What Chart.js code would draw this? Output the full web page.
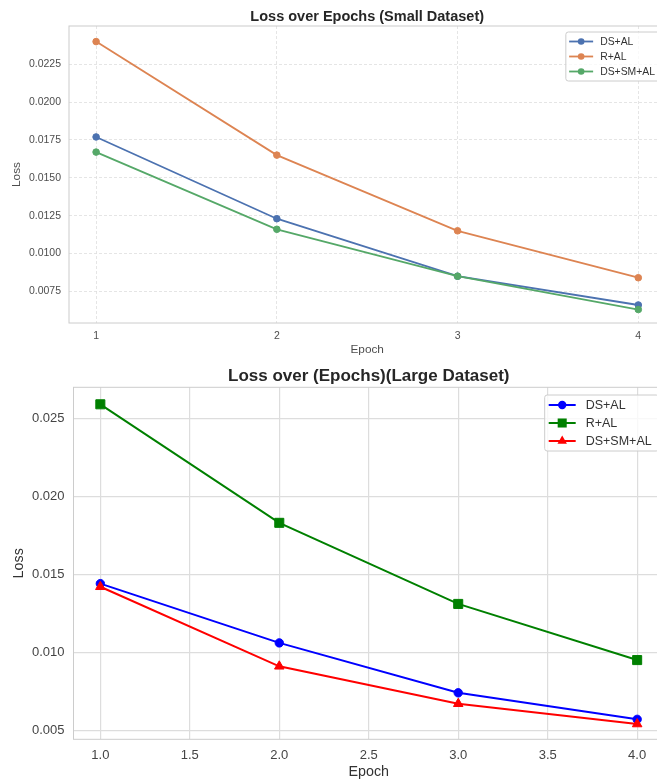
<!DOCTYPE html>
<html>
<head>
<meta charset="utf-8">
<title>Loss over Epochs</title>
<script src="https://cdn.jsdelivr.net/npm/chart.js@4.4.1/dist/chart.umd.min.js"></script>
<style>
  html, body { margin: 0; padding: 0; background: #fff; overflow: hidden; width: 657px; height: 783px; }
  #wrap { position: relative; width: 657px; height: 783px; overflow: hidden; }
  canvas { position: absolute; left: 0; }
  #small { top: 0; }
  #large { top: 360px; }
</style>
</head>
<body>
<div id="wrap">
  <canvas id="small" width="680" height="360"></canvas>
  <canvas id="large" width="680" height="423"></canvas>
</div>
<script>
// ---- data ----
const epochs = [1, 2, 3, 4];
const seriesNames = ['DS+AL', 'R+AL', 'DS+SM+AL'];

// small dataset losses
const smallDsAl   = [0.0177, 0.0123, 0.0085, 0.0066];
const smallRAl    = [0.0240, 0.0165, 0.0115, 0.0084];
const smallDsSmAl = [0.0167, 0.0116, 0.0085, 0.0063];

// large dataset losses
const largeDsAl   = [0.0144, 0.0106, 0.0074, 0.0057];
const largeRAl    = [0.0259, 0.0183, 0.0131, 0.0095];
const largeDsSmAl = [0.0142, 0.0091, 0.0067, 0.0054];

// tick positions and labels
const smallXTicks = [1, 2, 3, 4];
const smallXTickLabels = ['1', '2', '3', '4'];
const smallYTicks = [0.0075, 0.0100, 0.0125, 0.0150, 0.0175, 0.0200, 0.0225];
const smallYTickLabels = ['0.0075', '0.0100', '0.0125', '0.0150', '0.0175', '0.0200', '0.0225'];
const largeXTicks = [1.0, 1.5, 2.0, 2.5, 3.0, 3.5, 4.0];
const largeXTickLabels = ['1.0', '1.5', '2.0', '2.5', '3.0', '3.5', '4.0'];
const largeYTicks = [0.005, 0.010, 0.015, 0.020, 0.025];
const largeYTickLabels = ['0.005', '0.010', '0.015', '0.020', '0.025'];

const FONT = '"Liberation Sans", Arial, Helvetica, sans-serif';

function toPoints(values) {
  return values.map((v, i) => ({ x: epochs[i], y: v }));
}

// ---- plugins ----
function drawMarker(ctx, style, x, y, r) {
  ctx.beginPath();
  if (style === 'rect') {
    const s = r * Math.SQRT1_2;
    ctx.rect(x - s, y - s, 2 * s, 2 * s);
  } else if (style === 'triangle') {
    ctx.moveTo(x, y - r);
    ctx.lineTo(x + r * 0.8660254, y + r * 0.5);
    ctx.lineTo(x - r * 0.8660254, y + r * 0.5);
    ctx.closePath();
  } else {
    ctx.arc(x, y, r, 0, Math.PI * 2);
  }
  ctx.fill();
}

// axes frame around the plot area
const frame = {
  id: 'frame',
  afterDatasetsDraw(chart, args, o) {
    const a = chart.chartArea, ctx = chart.ctx;
    ctx.save();
    ctx.strokeStyle = o.color;
    ctx.lineWidth = o.width;
    ctx.strokeRect(a.left, a.top, a.right - a.left, a.bottom - a.top);
    ctx.restore();
  }
};

// boxed legend in the upper right corner of the plot
const boxLegend = {
  id: 'boxLegend',
  afterDraw(chart, args, o) {
    const ctx = chart.ctx, a = chart.chartArea;
    const sets = chart.data.datasets;
    ctx.save();
    ctx.font = o.fontSize + 'px ' + FONT;
    const textW = Math.max(...sets.map(d => ctx.measureText(d.label).width));
    const w = o.padLeft + o.handle + o.gap + textW + o.padRight;
    const h = o.padY * 2 + o.rowH * sets.length;
    const x0 = a.right - o.inset - w;
    const y0 = a.top + o.top;
    ctx.beginPath();
    ctx.roundRect(x0, y0, w, h, 2.5);
    ctx.fillStyle = 'rgba(255,255,255,0.8)';
    ctx.fill();
    ctx.strokeStyle = '#cccccc';
    ctx.lineWidth = 1;
    ctx.stroke();
    sets.forEach((d, i) => {
      const cy = y0 + o.padY + o.rowH * (i + 0.5);
      const lx = x0 + o.padLeft;
      ctx.beginPath();
      ctx.moveTo(lx, cy);
      ctx.lineTo(lx + o.handle, cy);
      ctx.strokeStyle = d.borderColor;
      ctx.lineWidth = d.borderWidth;
      ctx.stroke();
      ctx.fillStyle = d.pointBackgroundColor;
      drawMarker(ctx, d.pointStyle, lx + o.handle / 2, cy, d.pointRadius);
      ctx.fillStyle = o.color;
      ctx.textBaseline = 'middle';
      ctx.textAlign = 'left';
      ctx.fillText(d.label, lx + o.handle + o.gap, cy + 0.5);
    });
    ctx.restore();
  }
};

function lineSet(label, values, color, style, radius, width, order) {
  return {
    label: label,
    data: toPoints(values),
    borderColor: color,
    backgroundColor: color,
    pointBackgroundColor: color,
    pointBorderColor: color,
    pointBorderWidth: 1,
    pointStyle: style,
    pointRadius: radius,
    borderWidth: width,
    tension: 0,
    fill: false,
    order: order
  };
}

function makeChart(id, cfg) {
  const xTickVals = cfg.xTicks, xLabels = cfg.xTickLabels;
  const yTickVals = cfg.yTicks, yLabels = cfg.yTickLabels;
  return new Chart(document.getElementById(id), {
    type: 'line',
    data: { datasets: cfg.datasets },
    plugins: [frame, boxLegend],
    options: {
      responsive: false,
      animation: false,
      devicePixelRatio: 1,
      layout: { padding: { left: 0, top: 0, right: cfg.padRight, bottom: 0 } },
      plugins: {
        legend: { display: false },
        tooltip: { enabled: false },
        title: {
          display: true,
          text: cfg.title,
          fullSize: false,
          color: '#262626',
          font: { family: FONT, size: cfg.titleSize, weight: 'bold' },
          padding: cfg.titlePad
        },
        frame: { color: cfg.frameColor, width: 1 },
        boxLegend: cfg.legend
      },
      scales: {
        x: {
          type: 'linear',
          min: cfg.xMin,
          max: cfg.xMax,
          afterBuildTicks: s => { s.ticks = xTickVals.map(v => ({ value: v })); },
          afterFit: s => { s.height = cfg.xAxisHeight; },
          ticks: {
            autoSkip: false,
            maxRotation: 0,
            padding: cfg.xTickPad,
            color: cfg.tickColor,
            font: { family: FONT, size: cfg.tickSize },
            callback: (v, i) => xLabels[i]
          },
          grid: { color: cfg.gridColor, lineWidth: cfg.gridWidth, drawTicks: false },
          border: { display: false, dash: cfg.gridDash },
          title: {
            display: true,
            text: 'Epoch',
            color: cfg.labelColor,
            font: { family: FONT, size: cfg.labelSize },
            padding: { top: 0, bottom: cfg.xTitlePad }
          }
        },
        y: {
          type: 'linear',
          min: cfg.yMin,
          max: cfg.yMax,
          afterBuildTicks: s => { s.ticks = yTickVals.map(v => ({ value: v })); },
          afterFit: s => { s.width = cfg.yAxisWidth; },
          ticks: {
            autoSkip: false,
            padding: cfg.yTickPad,
            color: cfg.tickColor,
            font: { family: FONT, size: cfg.tickSize },
            callback: (v, i) => yLabels[i]
          },
          grid: { color: cfg.gridColor, lineWidth: cfg.gridWidth, drawTicks: false },
          border: { display: false, dash: cfg.gridDash },
          title: {
            display: true,
            text: 'Loss',
            color: cfg.labelColor,
            font: { family: FONT, size: cfg.labelSize },
            padding: { top: cfg.yTitlePad, bottom: 0 }
          }
        }
      }
    }
  });
}

// ---- small dataset (seaborn style) ----
makeChart('small', {
  title: 'Loss over Epochs (Small Dataset)',
  titleSize: 14.5,
  titlePad: { top: 8, bottom: 0.6 },
  padRight: 14.6,
  xMin: 0.85, xMax: 4.15,
  yMin: 0.00541, yMax: 0.02503,
  xTicks: smallXTicks, xTickLabels: smallXTickLabels,
  yTicks: smallYTicks, yTickLabels: smallYTickLabels,
  xAxisHeight: 37, yAxisWidth: 69,
  xTickPad: 7, yTickPad: 8,
  xTitlePad: 3, yTitlePad: 10,
  tickColor: '#4d4d4d', tickSize: 10.5,
  labelColor: '#4d4d4d', labelSize: 11.8,
  gridColor: '#dedede', gridWidth: 0.8, gridDash: [3, 2],
  frameColor: '#cccccc',
  legend: { fontSize: 10.4, color: '#333333', inset: 5.4, top: 6, padLeft: 3.3, padRight: 5, padY: 2, rowH: 15, handle: 24, gap: 7 },
  datasets: [
    lineSet(seriesNames[0], smallDsAl,   '#4c72b0', 'circle', 3.3, 1.8, 2),
    lineSet(seriesNames[1], smallRAl,    '#dd8452', 'circle', 3.3, 1.8, 1),
    lineSet(seriesNames[2], smallDsSmAl, '#55a868', 'circle', 3.3, 1.8, 0)
  ]
});

// ---- large dataset ----
makeChart('large', {
  title: 'Loss over (Epochs)(Large Dataset)',
  titleSize: 17,
  titlePad: { top: 6.3, bottom: 0.6 },
  padRight: 16,
  xMin: 0.85, xMax: 4.15,
  yMin: 0.00442, yMax: 0.02699,
  xTicks: largeXTicks, xTickLabels: largeXTickLabels,
  yTicks: largeYTicks, yTickLabels: largeYTickLabels,
  xAxisHeight: 43.7, yAxisWidth: 73.5,
  xTickPad: 8, yTickPad: 9,
  xTitlePad: 2.7, yTitlePad: 10.4,
  tickColor: '#444444', tickSize: 13,
  labelColor: '#333333', labelSize: 14.3,
  gridColor: '#dddddd', gridWidth: 1.2, gridDash: [],
  frameColor: '#cccccc',
  legend: { fontSize: 12.5, color: '#333333', inset: 5.3, top: 7.7, padLeft: 4, padRight: 7, padY: 1, rowH: 18, handle: 27, gap: 10 },
  datasets: [
    lineSet(seriesNames[0], largeDsAl,   '#0000ff', 'circle',   4.2, 2, 2),
    lineSet(seriesNames[1], largeRAl,    '#008000', 'rect',     6.4, 2, 1),
    lineSet(seriesNames[2], largeDsSmAl, '#ff0000', 'triangle', 5.5, 2, 0)
  ]
});
</script>
</body>
</html>
